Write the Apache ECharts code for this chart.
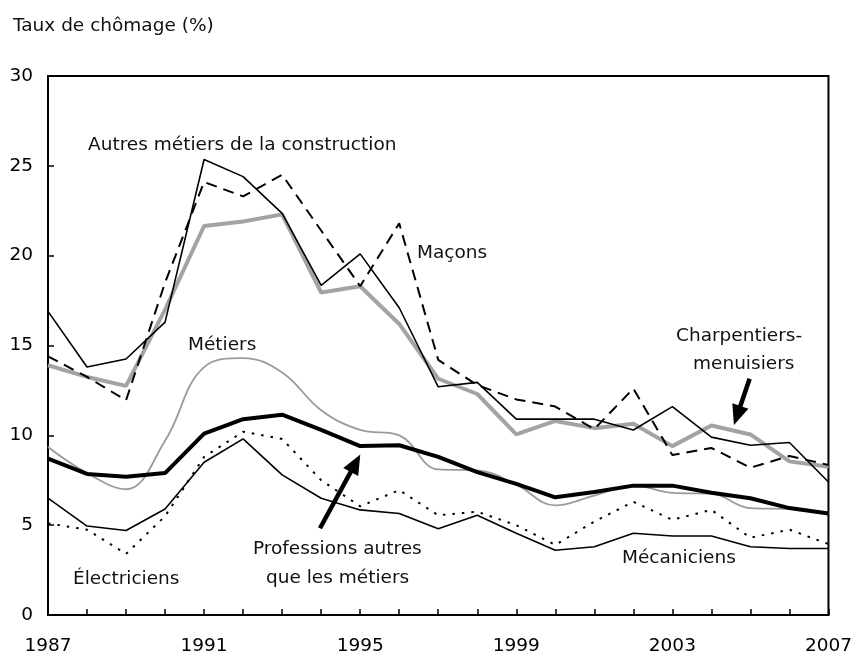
<!DOCTYPE html>
<html>
<head>
<meta charset="utf-8">
<script src="https://cdn.jsdelivr.net/npm/echarts@6/dist/echarts.min.js"></script>
<style>html,body{margin:0;padding:0;background:#fff}#c{width:855px;height:656px}</style>
</head>
<body>
<div id="c"></div>
<script>
const years = [1987,1988,1989,1990,1991,1992,1993,1994,1995,1996,1997,1998,1999,2000,2001,2002,2003,2004,2005,2006,2007];
const xTickLabels = [1987,1991,1995,1999,2003,2007];
const autresConstruction = [16.9,13.8,14.25,16.3,25.35,24.4,22.35,18.35,20.1,17.1,12.7,12.95,10.9,10.9,10.9,10.3,11.6,9.9,9.45,9.6,7.4];
const macons = [14.4,13.25,11.95,18.5,24.1,23.3,24.5,21.4,18.3,21.8,14.2,12.8,12.0,11.6,10.35,12.6,8.9,9.3,8.2,8.85,8.35];
const charpentiers = [13.9,13.25,12.75,17.0,21.65,21.9,22.3,17.95,18.3,16.2,13.15,12.3,10.05,10.8,10.4,10.65,9.4,10.55,10.05,8.55,8.25];
const metiers = [9.35,7.9,7.0,9.7,13.8,14.3,13.5,11.4,10.3,10.0,8.1,8.05,7.25,6.1,6.65,7.2,6.8,6.75,5.95,5.9,5.65];
const professionsAutres = [8.7,7.85,7.7,7.9,10.1,10.9,11.15,10.3,9.4,9.45,8.8,7.95,7.3,6.55,6.85,7.2,7.2,6.8,6.5,5.95,5.65];
const electriciens = [5.1,4.75,3.4,5.5,8.8,10.2,9.8,7.5,6.05,6.95,5.55,5.75,5.0,3.9,5.2,6.3,5.3,5.85,4.3,4.75,3.95];
const mecaniciens = [6.5,4.95,4.7,5.9,8.5,9.8,7.8,6.5,5.85,5.65,4.8,5.55,4.55,3.6,3.8,4.55,4.4,4.4,3.8,3.7,3.7];

const FONT = 'DejaVu Sans';
const FS = 18.5;
const pairs = arr => arr.map((v, i) => [years[i], v]);

const chart = echarts.init(document.getElementById('c'));
function txt(x, y, t) {
  return { type: 'text', left: x, top: y, style: { text: t, font: FS + 'px "' + FONT + '"', fill: '#111' } };
}
const option = {
  animation: false,
  backgroundColor: '#fff',
  grid: { left: 48, right: 26, top: 76, bottom: 39, show: true, borderColor: '#000', borderWidth: 2, backgroundColor: 'transparent' },
  xAxis: {
    type: 'value', min: 1987, max: 2007, interval: 1,
    axisLine: { show: true, lineStyle: { color: '#000', width: 2 } },
    axisTick: { show: true, inside: true, length: 6, lineStyle: { color: '#000', width: 1.5 } },
    splitLine: { show: false },
    axisLabel: {
      margin: 22, color: '#000', fontFamily: FONT, fontSize: FS,
      formatter: v => (xTickLabels.indexOf(v) >= 0 ? String(v) : '')
    }
  },
  yAxis: {
    type: 'value', min: 0, max: 30, interval: 5,
    axisLine: { show: true, lineStyle: { color: '#000', width: 2 } },
    axisTick: { show: true, inside: true, length: 6, lineStyle: { color: '#000', width: 1.5 } },
    splitLine: { show: false },
    axisLabel: { margin: 15, color: '#000', fontFamily: FONT, fontSize: FS }
  },
  graphic: [
    txt(13, 17, 'Taux de chômage (%)'),
    txt(88, 136, 'Autres métiers de la construction'),
    txt(417, 244, 'Maçons'),
    txt(188, 336, 'Métiers'),
    txt(676, 327, 'Charpentiers-'),
    txt(693, 355, 'menuisiers'),
    txt(253, 540, 'Professions autres'),
    txt(266, 569, 'que les métiers'),
    txt(73, 570, 'Électriciens'),
    txt(622, 549, 'Mécaniciens')
  ],
  series: [
    { name: 'Métiers', type: 'line', data: pairs(metiers), smooth: 0.4, symbol: 'none',
      lineStyle: { color: '#9a9a9a', width: 1.8 } },
    { name: 'Charpentiers-menuisiers', type: 'line', data: pairs(charpentiers), symbol: 'none',
      lineStyle: { color: '#a3a3a3', width: 4 } },
    { name: 'Autres métiers de la construction', type: 'line', data: pairs(autresConstruction), symbol: 'none',
      lineStyle: { color: '#000', width: 1.6 } },
    { name: 'Maçons', type: 'line', data: pairs(macons), symbol: 'none',
      lineStyle: { color: '#000', width: 2, type: [11, 7] } },
    { name: 'Professions autres que les métiers', type: 'line', data: pairs(professionsAutres), symbol: 'none',
      lineStyle: { color: '#000', width: 4 },
      markLine: {
        silent: true, symbol: ['none', 'triangle'], symbolSize: [17, 20],
        lineStyle: { color: '#000', width: 4.5, type: 'solid' }, label: { show: false },
        data: [
          [{ coord: [1993.97, 4.83] }, { coord: [1994.88, 8.45] }],
          [{ coord: [2004.98, 13.15] }, { coord: [2004.66, 11.1] }]
        ]
      } },
    { name: 'Électriciens', type: 'line', data: pairs(electriciens), symbol: 'none',
      lineStyle: { color: '#000', width: 2, type: [2.5, 7] } },
    { name: 'Mécaniciens', type: 'line', data: pairs(mecaniciens), symbol: 'none',
      lineStyle: { color: '#000', width: 1.6 } }
  ]
};
chart.setOption(option);
</script>
</body>
</html>
